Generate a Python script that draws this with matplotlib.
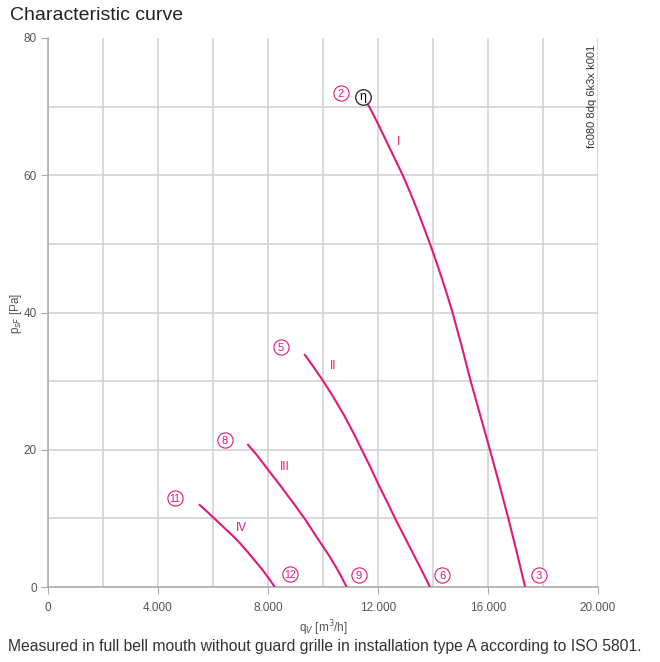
import matplotlib
matplotlib.use("Agg")
import matplotlib.pyplot as plt
from matplotlib.ticker import FixedLocator, FuncFormatter

plt.rcParams['font.family'] = ['Liberation Sans', 'DejaVu Sans']

# Curve data (q_V in m3/h, p_sF in Pa)
curve_I_x = [11590, 11680, 12000, 12300, 12600, 12900, 13170, 13420, 13660, 13890, 14110,
             14320, 14520, 14710, 15050, 15370, 15720, 16070, 16410, 16740, 17050, 17350]
curve_I_y = [70.5, 70.0, 67.5, 65.0, 62.5, 60.0, 57.5, 55.0, 52.5, 50.0, 47.5,
             45.0, 42.5, 40.0, 35.0, 30.0, 25.0, 20.0, 15.0, 10.0, 5.0, 0.0]
curve_II_x = [9320, 9650, 10010, 10390, 10770, 11100, 11410, 11720, 12010, 12320, 12620,
              12940, 13260, 13580, 13890]
curve_II_y = [33.95, 32.1, 30.0, 27.6, 25.0, 22.5, 20.0, 17.5, 15.0, 12.5, 10.0,
              7.5, 5.0, 2.5, 0.0]
curve_III_x = [7250, 7600, 8000, 8500, 9000, 9350, 9800, 10250, 10560, 10860]
curve_III_y = [20.84, 19.2, 17.1, 14.5, 11.8, 9.86, 7.1, 4.4, 2.3, 0.0]
curve_IV_x = [5490, 5780, 6070, 6390, 6710, 7000, 7280, 7530, 7780, 8020, 8250]
curve_IV_y = [12.05, 11.0, 9.9, 8.7, 7.5, 6.3, 5.0, 3.8, 2.6, 1.3, 0.0]

curve_names = ['I', 'II', 'III', 'IV']
name_pos_x = [12760, 10360, 8620, 7050]
name_pos_y = [64.8, 32.2, 17.5, 8.6]

point_labels = ['2', '5', '8', '11', '3', '6', '9', '12']
point_x = [10650, 8470, 6440, 4620, 17850, 14330, 11310, 8800]
point_y = [72.0, 35.0, 21.4, 13.0, 1.75, 1.75, 1.75, 1.9]

eta_x, eta_y = 11450, 71.4

x_ticks = [0, 4000, 8000, 12000, 16000, 20000]
y_ticks = [0, 20, 40, 60, 80]
x_grid = [2000, 6000, 10000, 14000, 18000]
y_grid = [10, 30, 50, 70]

PINK = '#e2187f'
GRID = '#d0d0d0'
TXT = '#555555'

fig = plt.figure(figsize=(6.6, 6.62), dpi=100)
ax = fig.add_axes([48/660, 1-587/662, 550/660, 549/662])
ax.set_xlim(0, 20000)
ax.set_ylim(0, 80)

ax.xaxis.set_major_locator(FixedLocator(x_ticks))
ax.yaxis.set_major_locator(FixedLocator(y_ticks))
ax.xaxis.set_minor_locator(FixedLocator(x_grid))
ax.yaxis.set_minor_locator(FixedLocator(y_grid))
ax.grid(True, which='both', color=GRID, lw=1.1)
ax.get_ygridlines()[-1].set_visible(False)
ax.set_axisbelow(True)
ax.xaxis.set_major_formatter(FuncFormatter(lambda v, p: f"{int(v):,}".replace(',', '.')))
ax.tick_params(which='major', length=5, color='#aaaaaa', labelsize=8.5, labelcolor=TXT)
ax.tick_params(axis='y', which='major', pad=3)
ax.tick_params(axis='x', which='major', pad=6)
ax.tick_params(which='minor', length=0)
for s in ['top', 'right']:
    ax.spines[s].set_visible(False)
for s in ['left', 'bottom']:
    ax.spines[s].set_color('#aaaaaa')
    ax.spines[s].set_linewidth(1.1)

for xs, ys in [(curve_I_x, curve_I_y), (curve_II_x, curve_II_y),
               (curve_III_x, curve_III_y), (curve_IV_x, curve_IV_y)]:
    ax.plot(xs, ys, color=PINK, lw=1.5, solid_capstyle='butt', solid_joinstyle='round', zorder=3)

for n, x, y in zip(curve_names, name_pos_x, name_pos_y):
    ax.text(x, y, n, color=PINK, fontsize=8.5, ha='center', va='center')

ax.scatter(point_x, point_y, s=120, facecolor='white', edgecolor=PINK, linewidth=0.8, zorder=4)
for lab, x, y in zip(point_labels, point_x, point_y):
    ax.text(x, y, lab, color=PINK, fontsize=8 if len(lab) == 1 else 7.5,
            ha='center', va='center_baseline', zorder=5)

ax.scatter([eta_x], [eta_y], s=125, facecolor='white', edgecolor='#333333', linewidth=1.0, zorder=5)
ax.text(eta_x, eta_y, 'η', color='black', fontsize=9, ha='center', va='center', zorder=6)

ax.set_xlabel('q$_V$ [m$^3$/h]', fontsize=8.5, color=TXT, labelpad=3)
fig.text(16/660, 1-313/662, 'p$_{sF}$ [Pa]', fontsize=8.5, color=TXT,
         rotation=90, ha='center', va='center')

fig.text(10/660, 1-15/662, 'Characteristic curve', fontsize=14, color='#222222',
         ha='left', va='center')
fig.text(592/660, 1-96/662, 'fc080 8dq 6k3x k001', fontsize=8, color='#333333',
         rotation=90, ha='center', va='center')
fig.text(8/660, 1-647/662,
         'Measured in full bell mouth without guard grille in installation type A according to ISO 5801.',
         fontsize=11.3, color='#333333', ha='left', va='center')

fig.savefig('out.png', dpi=100)
